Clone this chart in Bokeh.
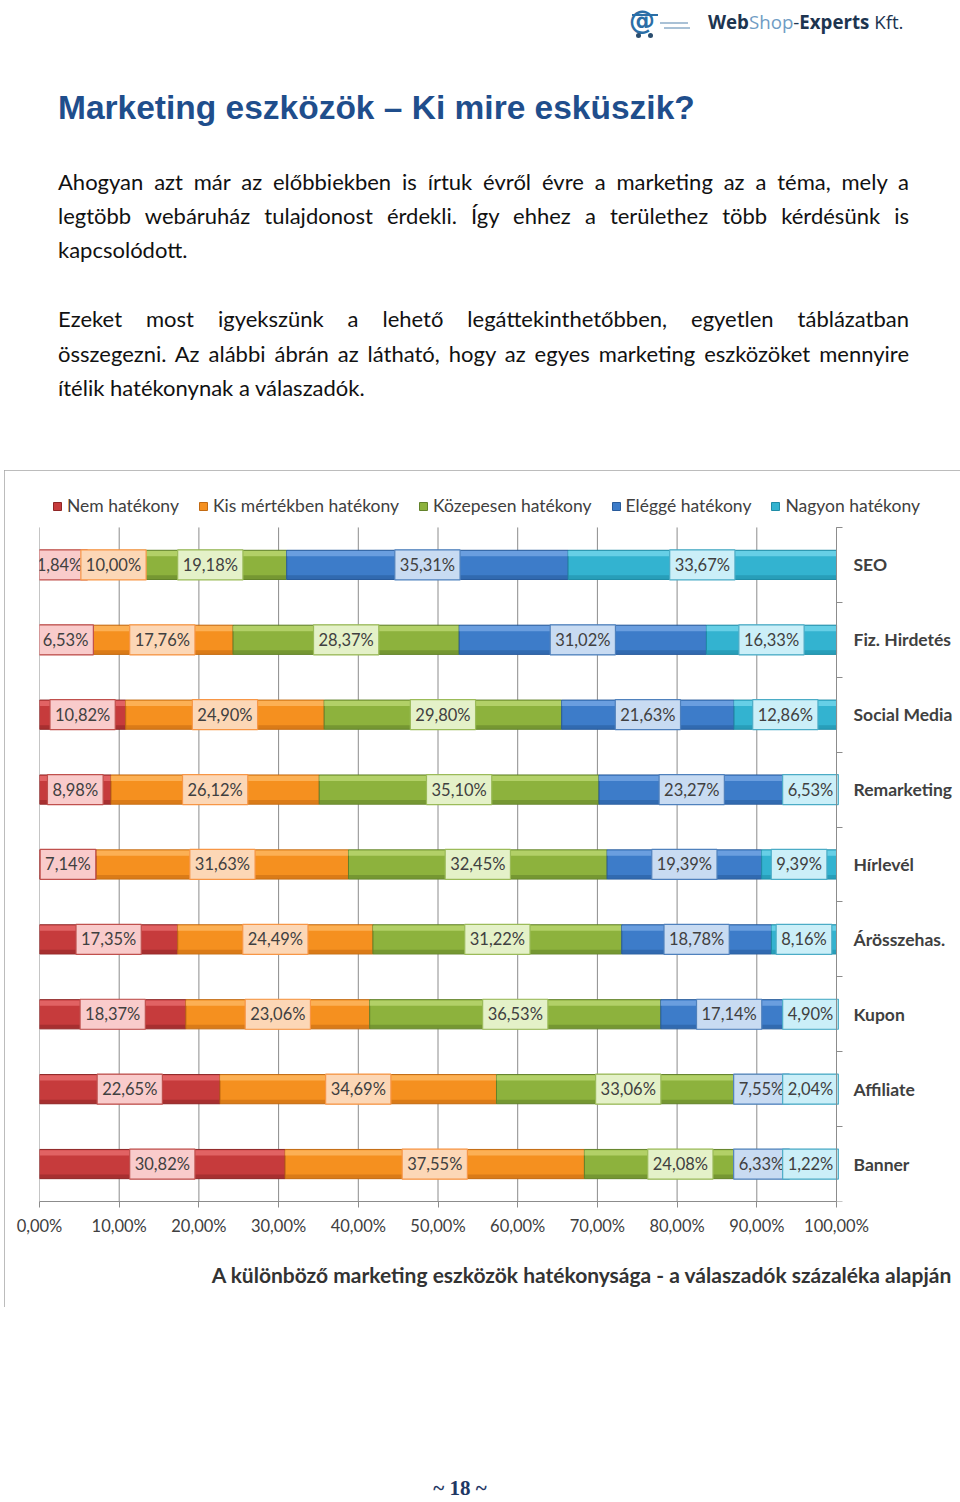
from bokeh.plotting import figure
from bokeh.models import (ColumnDataSource, Range1d, LinearAxis, FixedTicker, Legend,
                          LegendItem, Title, Div)
from bokeh.layouts import column
from bokeh.embed import file_html
from bokeh.resources import INLINE
from bokeh.core.properties import value

# ---------------- data ----------------
categories = ["SEO", "Fiz. Hirdetés", "Social Media", "Remarketing", "Hírlevél",
              "Árösszehas.", "Kupon", "Affiliate", "Banner"]
series_names = ["Nem hatékony", "Kis mértékben hatékony", "Közepesen hatékony",
                "Eléggé hatékony", "Nagyon hatékony"]
nem_hatekony = [1.84, 6.53, 10.82, 8.98, 7.14, 17.35, 18.37, 22.65, 30.82]
kis_mertekben = [10.00, 17.76, 24.90, 26.12, 31.63, 24.49, 23.06, 34.69, 37.55]
kozepesen = [19.18, 28.37, 29.80, 35.10, 32.45, 31.22, 36.53, 33.06, 24.08]
eleggé = [35.31, 31.02, 21.63, 23.27, 19.39, 18.78, 17.14, 7.55, 6.33]
nagyon = [33.67, 16.33, 12.86, 6.53, 9.39, 8.16, 4.90, 2.04, 1.22]
series_values = [nem_hatekony, kis_mertekben, kozepesen, eleggé, nagyon]
x_ticks = [0, 10, 20, 30, 40, 50, 60, 70, 80, 90, 100]
x_tick_labels = ["0,00%", "10,00%", "20,00%", "30,00%", "40,00%", "50,00%",
                 "60,00%", "70,00%", "80,00%", "90,00%", "100,00%"]
chart_title = "A különböző marketing eszközök hatékonysága - a válaszadók százaléka alapján"

# ---------------- styles ----------------
main_cols = ["#c63b3c", "#f5901f", "#8db23d", "#3d7cc9", "#33b3d0"]
light_cols = ["#e56a6a", "#fdb65e", "#b8d56e", "#72a5e3", "#70d4ea"]
dark_cols = ["#8e2626", "#c26a12", "#62822a", "#285b9b", "#1f8ca6"]
box_fill = ["#f9cbcb", "#fcd7b6", "#e4f1c8", "#c8dbf2", "#cbeff8"]
box_line = ["#c0504d", "#f79646", "#9bbb59", "#4f81bd", "#4bacc6"]
TXT = "#404040"
FONT = "Lato"

W, H = 956, 837
ML, MR, MB = 35, 6, 104
PX = 797 / 100.0                      # pixels per percentage point
FRAME_W = W - ML - MR
X_END = FRAME_W / PX                  # frame continues right of 100% for labels/legend
TOP_EXTRA = 0.6                       # room above the bars (category units) for the legend
UNIT_PX = 75.1
FRAME_H = round((9 + TOP_EXTRA) * UNIT_PX)
MT = H - MB - FRAME_H
BAR_H = 0.39


def fmt(v):
    return f"{v:.2f}".replace(".", ",") + "%"


n = len(categories)
ypos = [i + 0.5 for i in range(n)]
x_max = x_ticks[-1]

lefts = []
cum = [0.0] * n
for vals in series_values:
    lefts.append(cum[:])
    cum = [c + v for c, v in zip(cum, vals)]

# label placement (keep boxes inside and limit overlap)
label_x = [[0.0] * n for _ in series_values]
for i in range(n):
    texts = [fmt(series_values[j][i]) for j in range(5)]
    w = [(10 * len(t) + 10) / PX for t in texts]
    c = [lefts[j][i] + series_values[j][i] / 2 for j in range(5)]
    ov = 11 / PX
    c[0] = max(c[0], -10 / PX + w[0] / 2)
    for j in range(1, 5):
        c[j] = max(c[j], c[j - 1] + (w[j - 1] + w[j]) / 2 - ov)
    c[4] = min(c[4], x_max + 4 / PX - w[4] / 2)
    for j in range(3, -1, -1):
        c[j] = min(c[j], c[j + 1] - (w[j] + w[j + 1]) / 2 + ov)
    for j in range(5):
        label_x[j][i] = c[j]

# ---------------- chart figure ----------------
p = figure(width=W, height=H, x_range=Range1d(0, X_END), y_range=Range1d(n, -TOP_EXTRA),
           output_backend="svg", toolbar_location=None,
           min_border_left=ML, min_border_right=MR, min_border_top=MT, min_border_bottom=MB,
           y_axis_location=None, margin=(0, 0, 0, 4),
           styles={"outline": "1.5px solid #a6a6a6", "outline-offset": "-1.5px"})
p.outline_line_color = None
p.background_fill_color = "white"
p.border_fill_color = "white"

p.xaxis.ticker = FixedTicker(ticks=x_ticks)
p.xaxis.bounds = (x_ticks[0], x_max)
p.xaxis.major_label_overrides = dict(zip(x_ticks, x_tick_labels))
p.xaxis.axis_line_color = "#8c8c8c"
p.xaxis.major_tick_line_color = "#8c8c8c"
p.xaxis.major_tick_out = 6
p.xaxis.major_tick_in = 0
p.xaxis.minor_tick_line_color = None
p.xaxis.major_label_text_font = FONT
p.xaxis.major_label_text_font_size = "16.5px"
p.xaxis.major_label_text_color = TXT
p.xaxis.major_label_standoff = 8
p.xgrid.visible = False
p.ygrid.visible = False

# vertical grid lines only over the bar area
gsrc = ColumnDataSource(dict(x=x_ticks, y0=[0] * len(x_ticks), y1=[n] * len(x_ticks)))
p.segment(x0="x", y0="y0", x1="x", y1="y1", source=gsrc, line_color="#8c8c8c", line_width=1)

# category axis at 100 %, ticks between categories
yaxis = LinearAxis(
    ticker=FixedTicker(ticks=ypos, minor_ticks=list(range(n + 1))),
    major_label_overrides={y: "" for y in ypos},
    bounds=(0, n), fixed_location=x_max,
    axis_line_color="#8c8c8c", major_tick_line_color=None,
    major_tick_out=0, major_tick_in=0,
    minor_tick_line_color="#8c8c8c", minor_tick_out=6, minor_tick_in=0,
    major_label_standoff=0)
p.add_layout(yaxis, "right")

cat_src = ColumnDataSource(dict(x=[x_max] * n, y=ypos, t=categories))
p.text(x="x", y="y", text="t", source=cat_src, x_offset=17, text_align="left",
       text_baseline="middle", text_font=value(FONT), text_font_style="bold",
       text_font_size=value("17.5px"), text_color=TXT)

legend_items = []
for j, vals in enumerate(series_values):
    left = lefts[j]
    right = [l + v for l, v in zip(left, vals)]
    src = ColumnDataSource(dict(
        y=ypos, left=left, right=right,
        y_top=[y - BAR_H / 2 + 0.045 for y in ypos],
        y_bot=[y + BAR_H / 2 - 0.03 for y in ypos]))
    r = p.hbar(y="y", left="left", right="right", height=BAR_H, source=src,
               fill_color=main_cols[j], line_color=dark_cols[j], line_width=1)
    p.hbar(y="y_top", left="left", right="right", height=0.07, source=src,
           fill_color=light_cols[j], fill_alpha=0.85, line_color=None)
    p.hbar(y="y_bot", left="left", right="right", height=0.05, source=src,
           fill_color=dark_cols[j], fill_alpha=0.55, line_color=None)
    legend_items.append(LegendItem(label=series_names[j], renderers=[r]))

for j, vals in enumerate(series_values):
    lsrc = ColumnDataSource(dict(x=label_x[j], y=ypos, t=[fmt(v) for v in vals]))
    p.text(x="x", y="y", text="t", source=lsrc, text_align="center", text_baseline="middle",
           text_font=value(FONT), text_font_size=value("16.5px"), text_color=TXT,
           background_fill_color=box_fill[j], border_line_color=box_line[j],
           border_line_width=1.2, padding=5)

legend = Legend(items=legend_items, location=(13, 685), orientation="horizontal",
                border_line_color=None, background_fill_alpha=0, padding=0, margin=0,
                spacing=19, glyph_width=10, glyph_height=10, label_standoff=5,
                label_text_font=FONT, label_text_font_size="17.5px", label_text_color=TXT)
p.add_layout(legend)

frame_right_page = 4 + ML + FRAME_W
p.add_layout(Title(text=chart_title, align="right", offset=-(952 - frame_right_page), standoff=42,
                   text_font=FONT, text_font_style="bold", text_font_size="21px",
                   text_color="#333333"), "below")

# ---------------- page text ----------------
para_style = ("position:absolute;left:58px;width:851px;height:30px;line-height:30px;"
              "font-family:Lato;font-size:22px;color:#111;white-space:nowrap;")
just = "text-align:justify;text-align-last:justify;"
lines = [
    ("Ahogyan azt már az előbbiekben is írtuk évről évre a marketing az a téma, mely a", 182, True),
    ("legtöbb webáruház tulajdonost érdekli. Így ehhez a területhez több kérdésünk is", 216, True),
    ("kapcsolódott.", 250, False),
    ("Ezeket most igyekszünk a lehető legáttekinthetőbben, egyetlen táblázatban", 319, True),
    ("összegezni. Az alábbi ábrán az látható, hogy az egyes marketing eszközöket mennyire", 354, True),
    ("ítélik hatékonynak a válaszadók.", 388, False),
]
para_html = ""
for txt, yc, j in lines:
    top = yc - 15
    para_html += f'<div style="{para_style}top:{top}px;{just if j else ""}">{txt}</div>'

logo_html = (
    '<div style="position:absolute;left:629px;top:5px;font-family:\'DejaVu Sans\';'
    'font-weight:bold;font-size:26px;color:#2b6ea6;line-height:30px;">@</div>'
    '<div style="position:absolute;left:632px;top:14px;width:26px;height:2px;background:#2b6ea6;"></div>'
    '<div style="position:absolute;left:660px;top:22px;width:28px;height:2px;background:#a9c1d6;"></div>'
    '<div style="position:absolute;left:664px;top:27px;width:26px;height:2px;background:#a9c1d6;"></div>'
    '<div style="position:absolute;left:636px;top:33px;width:5px;height:5px;border-radius:3px;background:#2b4d6e;"></div>'
    '<div style="position:absolute;left:648px;top:33px;width:5px;height:5px;border-radius:3px;background:#2b4d6e;"></div>'
    '<div style="position:absolute;left:708px;top:10px;line-height:24px;font-family:\'Open Sans\';'
    'font-size:18.7px;color:#1d3550;white-space:nowrap;">'
    '<b>Web</b><span style="color:#6f9cc4;">Shop</span>-<b>Experts</b> Kft.</div>'
)

title_html = ('<div style="position:absolute;left:58px;top:88px;line-height:40px;'
              'font-family:\'Liberation Sans\';font-weight:bold;font-size:33.5px;color:#1f4e8c;'
              'white-space:nowrap;">Marketing eszközök – Ki mire esküszik?</div>')

header = Div(text=f'<div style="position:relative;width:960px;height:470px;">{logo_html}{title_html}{para_html}</div>',
             width=960, height=470, margin=(0, 0, 0, 0))

footer = Div(text='<div style="position:relative;width:960px;height:195px;">'
                  '<div style="position:absolute;left:360px;top:170px;width:200px;text-align:center;'
                  'line-height:22px;font-family:\'Liberation Serif\';font-weight:bold;font-size:21px;'
                  'color:#1f3864;">~ 18 ~</div></div>',
             width=960, height=195, margin=(0, 0, 0, 0))

layout = column(header, p, footer, spacing=0)
open("out.html", "w").write(file_html(layout, INLINE))
